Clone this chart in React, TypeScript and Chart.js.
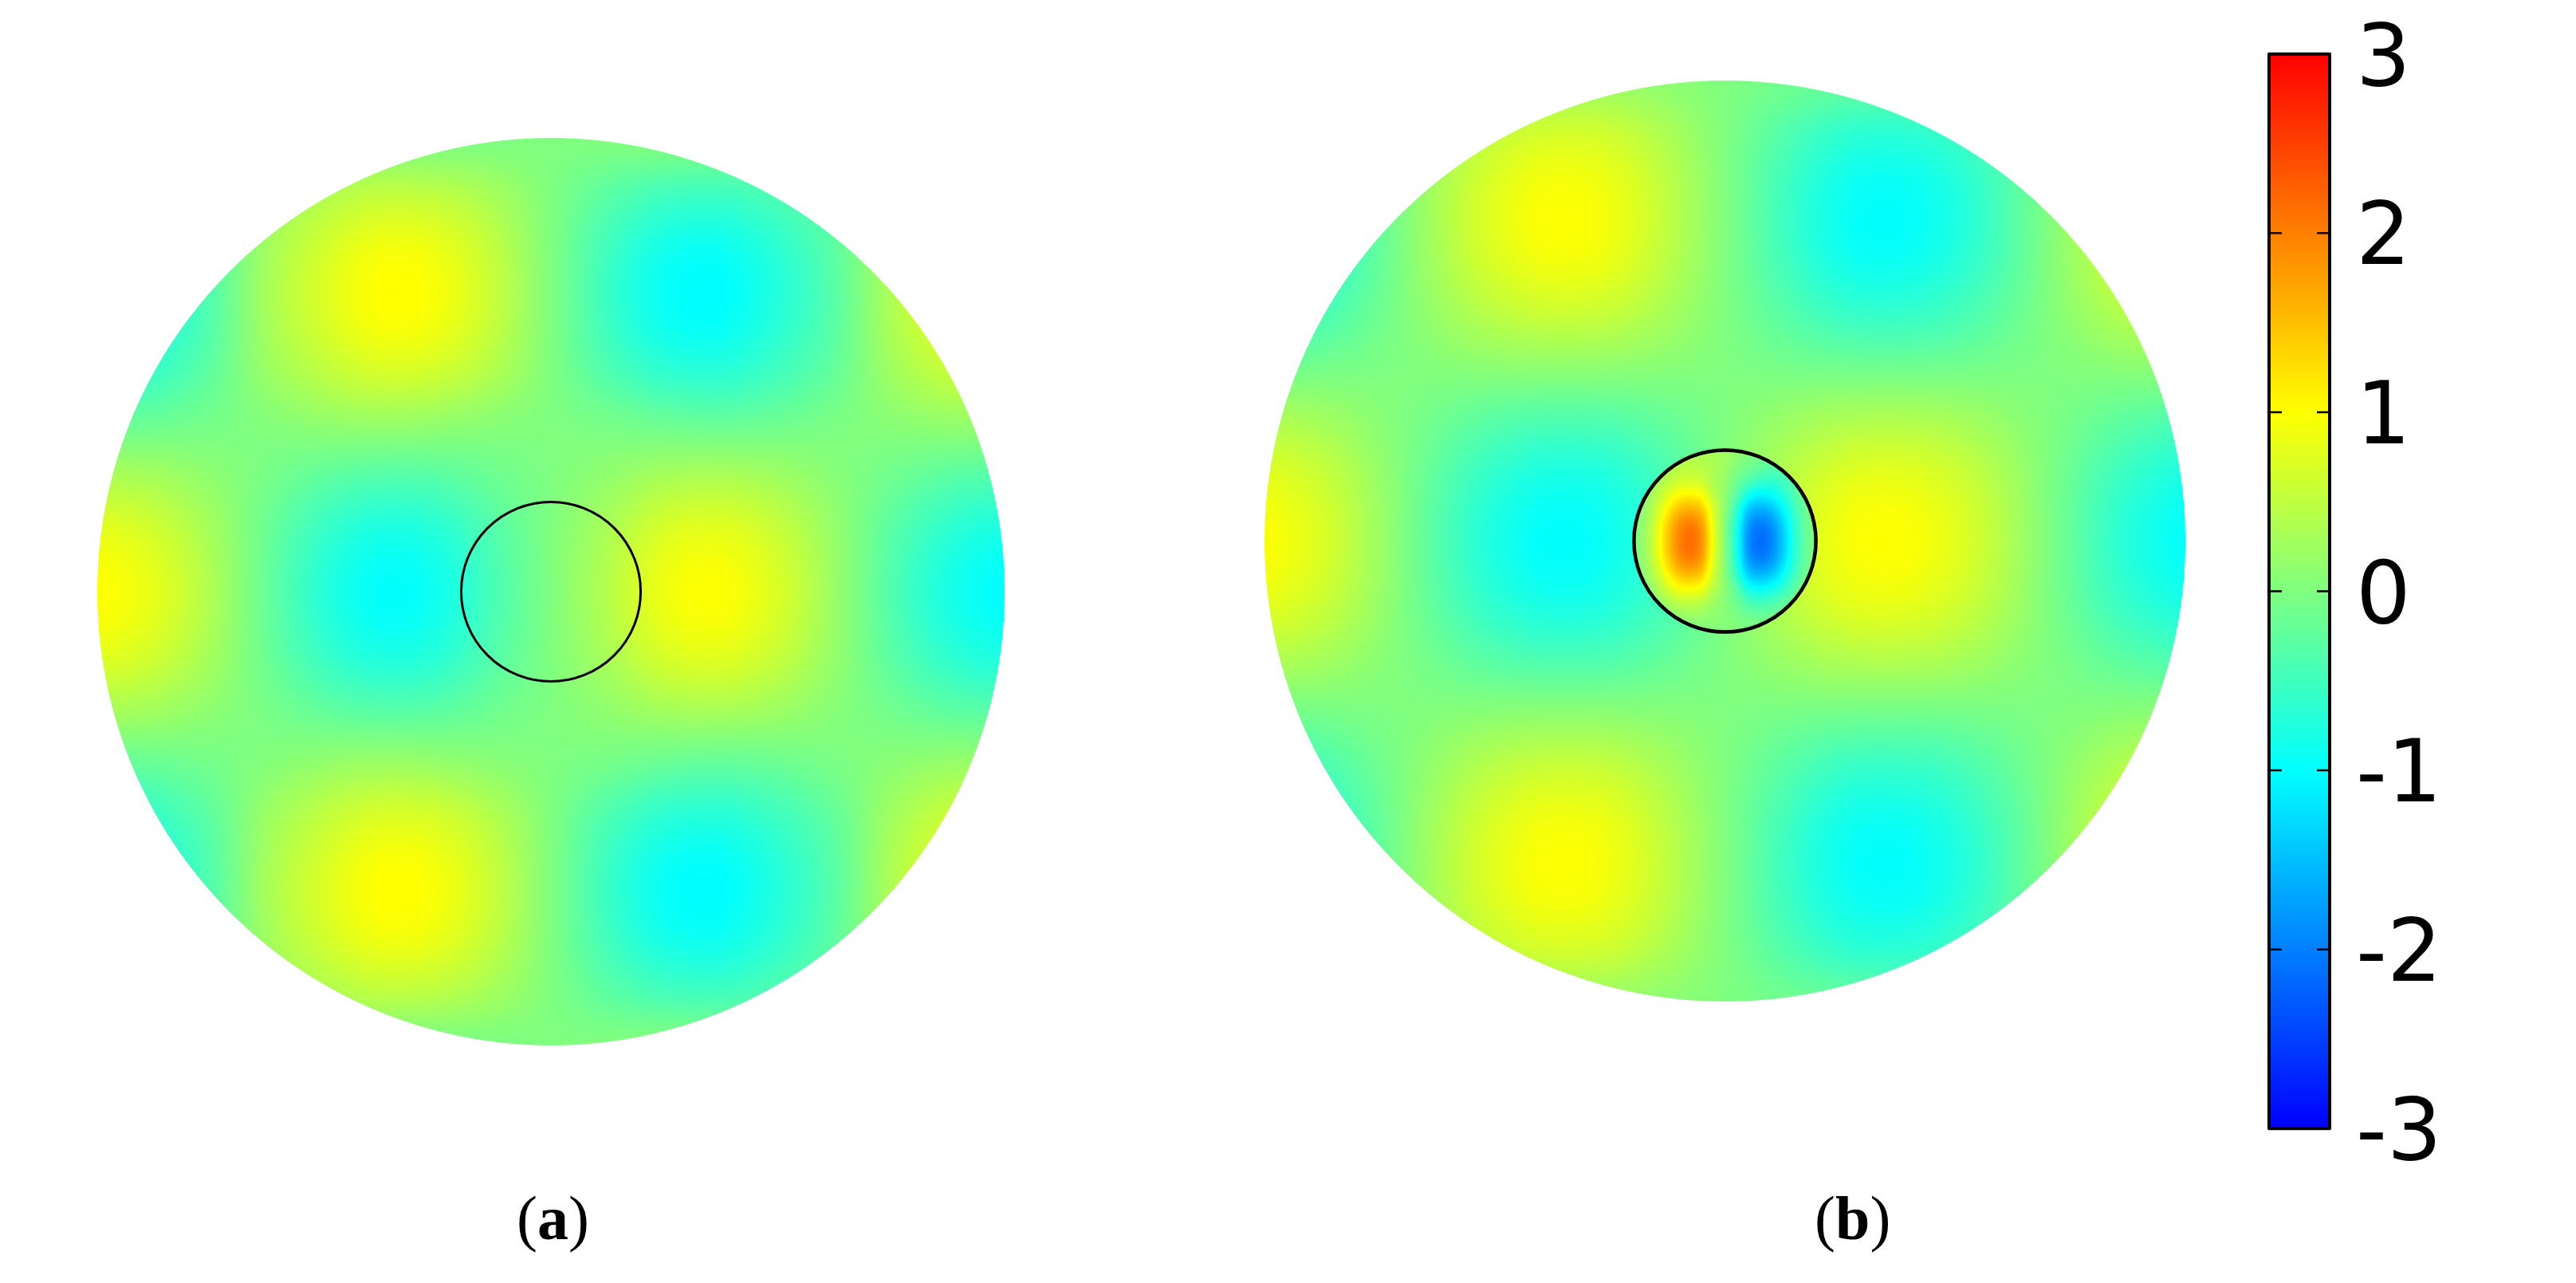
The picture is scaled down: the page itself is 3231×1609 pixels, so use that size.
import React, { useEffect, useRef } from "react";
import { Chart, registerables } from "chart.js";

Chart.register(...registerables);

const gridAxis = [-1, -0.875, -0.75, -0.625, -0.5, -0.375, -0.25, -0.125, 0, 0.125, 0.25, 0.375, 0.5, 0.625, 0.75, 0.875, 1];

// Panel (a): field read on a regular grid, top row first
const fieldA = [
  [0.05, 0.04, 0.02, -0.01, -0.04, -0.05, -0.04, -0.02, 0, 0.02, 0.04, 0.05, 0.04, 0.01, -0.02, -0.04, -0.05],
  [-0.52, -0.42, -0.19, 0.16, 0.37, 0.52, 0.48, 0.29, 0, -0.29, -0.48, -0.52, -0.37, -0.16, 0.19, 0.42, 0.52],
  [-0.91, -0.73, -0.33, 0.27, 0.66, 0.91, 0.85, 0.5, 0, -0.5, -0.85, -0.91, -0.66, -0.27, 0.33, 0.73, 0.91],
  [-0.99, -0.79, -0.35, 0.3, 0.71, 0.99, 0.92, 0.54, 0, -0.54, -0.92, -0.99, -0.71, -0.3, 0.35, 0.79, 0.99],
  [-0.72, -0.58, -0.26, 0.22, 0.52, 0.72, 0.67, 0.4, 0, -0.4, -0.67, -0.72, -0.52, -0.22, 0.26, 0.58, 0.72],
  [-0.21, -0.17, -0.08, 0.04, 0.15, 0.21, 0.17, 0.08, 0, -0.08, -0.17, -0.21, -0.15, -0.04, 0.08, 0.17, 0.21],
  [0.37, 0.3, 0.13, -0.07, -0.26, -0.36, -0.32, -0.155, 0, 0.155, 0.32, 0.36, 0.26, 0.07, -0.13, -0.3, -0.37],
  [0.83, 0.66, 0.3, -0.17, -0.58, -0.81, -0.72, -0.35, 0, 0.35, 0.72, 0.81, 0.58, 0.17, -0.3, -0.66, -0.83],
  [1, 0.8, 0.36, -0.2, -0.7, -0.98, -0.87, -0.42, 0, 0.42, 0.87, 0.98, 0.7, 0.2, -0.36, -0.8, -1],
  [0.83, 0.66, 0.3, -0.17, -0.58, -0.81, -0.72, -0.35, 0, 0.35, 0.72, 0.81, 0.58, 0.17, -0.3, -0.66, -0.83],
  [0.37, 0.3, 0.13, -0.07, -0.26, -0.36, -0.32, -0.155, 0, 0.155, 0.32, 0.36, 0.26, 0.07, -0.13, -0.3, -0.37],
  [-0.21, -0.17, -0.08, 0.04, 0.15, 0.21, 0.17, 0.08, 0, -0.08, -0.17, -0.21, -0.15, -0.04, 0.08, 0.17, 0.21],
  [-0.72, -0.58, -0.26, 0.22, 0.52, 0.72, 0.67, 0.4, 0, -0.4, -0.67, -0.72, -0.52, -0.22, 0.26, 0.58, 0.72],
  [-0.99, -0.79, -0.35, 0.3, 0.71, 0.99, 0.92, 0.54, 0, -0.54, -0.92, -0.99, -0.71, -0.3, 0.35, 0.79, 0.99],
  [-0.91, -0.73, -0.33, 0.27, 0.66, 0.91, 0.85, 0.5, 0, -0.5, -0.85, -0.91, -0.66, -0.27, 0.33, 0.73, 0.91],
  [-0.52, -0.42, -0.19, 0.16, 0.37, 0.52, 0.48, 0.29, 0, -0.29, -0.48, -0.52, -0.37, -0.16, 0.19, 0.42, 0.52],
  [0.05, 0.04, 0.02, -0.01, -0.04, -0.05, -0.04, -0.02, 0, 0.02, 0.04, 0.05, 0.04, 0.01, -0.02, -0.04, -0.05],
];

// Panel (b): host field, top row first
const fieldB = [
  [-0.21, -0.16, -0.05, 0.07, 0.17, 0.22, 0.2, 0.11, 0, -0.11, -0.2, -0.22, -0.17, -0.07, 0.05, 0.16, 0.21],
  [-0.69, -0.5, -0.16, 0.23, 0.55, 0.7, 0.64, 0.36, 0, -0.36, -0.64, -0.7, -0.55, -0.23, 0.16, 0.5, 0.69],
  [-0.94, -0.69, -0.21, 0.32, 0.76, 0.96, 0.87, 0.49, 0, -0.49, -0.87, -0.96, -0.76, -0.32, 0.21, 0.69, 0.94],
  [-0.91, -0.67, -0.21, 0.31, 0.73, 0.93, 0.85, 0.47, 0, -0.47, -0.85, -0.93, -0.73, -0.31, 0.21, 0.67, 0.91],
  [-0.6, -0.44, -0.14, 0.2, 0.48, 0.61, 0.56, 0.31, 0, -0.31, -0.56, -0.61, -0.48, -0.2, 0.14, 0.44, 0.6],
  [-0.11, -0.08, -0.02, 0.04, 0.09, 0.11, 0.1, 0.06, 0, -0.06, -0.1, -0.11, -0.09, -0.04, 0.02, 0.08, 0.11],
  [0.42, 0.31, 0.09, -0.14, -0.34, -0.43, -0.39, -0.22, 0, 0.22, 0.39, 0.43, 0.34, 0.14, -0.09, -0.31, -0.42],
  [0.82, 0.6, 0.19, -0.28, -0.66, -0.84, -0.77, -0.43, 0, 0.43, 0.77, 0.84, 0.66, 0.28, -0.19, -0.6, -0.82],
  [0.97, 0.71, 0.22, -0.33, -0.78, -0.99, -0.9, -0.5, 0, 0.5, 0.9, 0.99, 0.78, 0.33, -0.22, -0.71, -0.97],
  [0.82, 0.6, 0.19, -0.28, -0.66, -0.84, -0.77, -0.43, 0, 0.43, 0.77, 0.84, 0.66, 0.28, -0.19, -0.6, -0.82],
  [0.42, 0.31, 0.09, -0.14, -0.34, -0.43, -0.39, -0.22, 0, 0.22, 0.39, 0.43, 0.34, 0.14, -0.09, -0.31, -0.42],
  [-0.11, -0.08, -0.02, 0.04, 0.09, 0.11, 0.1, 0.06, 0, -0.06, -0.1, -0.11, -0.09, -0.04, 0.02, 0.08, 0.11],
  [-0.6, -0.44, -0.14, 0.2, 0.48, 0.61, 0.56, 0.31, 0, -0.31, -0.56, -0.61, -0.48, -0.2, 0.14, 0.44, 0.6],
  [-0.91, -0.67, -0.21, 0.31, 0.73, 0.93, 0.85, 0.47, 0, -0.47, -0.85, -0.93, -0.73, -0.31, 0.21, 0.67, 0.91],
  [-0.94, -0.69, -0.21, 0.32, 0.76, 0.96, 0.87, 0.49, 0, -0.49, -0.87, -0.96, -0.76, -0.32, 0.21, 0.69, 0.94],
  [-0.69, -0.5, -0.16, 0.23, 0.55, 0.7, 0.64, 0.36, 0, -0.36, -0.64, -0.7, -0.55, -0.23, 0.16, 0.5, 0.69],
  [-0.21, -0.16, -0.05, 0.07, 0.17, 0.22, 0.2, 0.11, 0, -0.11, -0.2, -0.22, -0.17, -0.07, 0.05, 0.16, 0.21],
];

// Panel (b): field inside the inclusion, in inclusion-radius units, top row first
const inclusionB = [
  [0, 0.1, 0.2, 0.25, 0.3, 0.3, 0.3, 0.3, 0.25, 0.15, 0.05, 0, -0.1, -0.1, -0.1, -0.05, 0],
  [0, 0.1, 0.2, 0.32, 0.4, 0.41, 0.39, 0.34, 0.25, 0.1, -0.04, -0.11, -0.2, -0.17, -0.14, -0.06, 0],
  [0, 0.08, 0.2, 0.36, 0.49, 0.52, 0.48, 0.35, 0.2, -0.03, -0.18, -0.32, -0.39, -0.31, -0.2, -0.08, 0],
  [0, 0.1, 0.28, 0.5, 0.67, 0.72, 0.64, 0.37, 0.15, -0.15, -0.44, -0.62, -0.67, -0.51, -0.3, -0.1, 0],
  [0, 0.12, 0.38, 0.73, 0.99, 1.08, 0.94, 0.5, 0.1, -0.32, -0.85, -1.05, -0.99, -0.73, -0.36, -0.1, 0],
  [0, 0.15, 0.5, 0.98, 1.37, 1.5, 1.3, 0.65, 0.1, -0.55, -1.28, -1.5, -1.37, -0.98, -0.49, -0.14, 0],
  [0, 0.17, 0.61, 1.22, 1.7, 1.86, 1.61, 0.76, 0.05, -0.72, -1.61, -1.86, -1.7, -1.22, -0.61, -0.17, 0],
  [0, 0.2, 0.7, 1.36, 1.89, 2.08, 1.79, 0.82, 0.02, -0.82, -1.79, -2.08, -1.89, -1.36, -0.68, -0.19, 0],
  [0, 0.2, 0.7, 1.4, 1.95, 2.14, 1.85, 0.85, 0.02, -0.85, -1.85, -2.14, -1.95, -1.4, -0.7, -0.2, 0],
  [0, 0.2, 0.7, 1.36, 1.89, 2.08, 1.79, 0.82, 0.02, -0.82, -1.79, -2.08, -1.89, -1.36, -0.68, -0.19, 0],
  [0, 0.17, 0.61, 1.22, 1.7, 1.86, 1.61, 0.74, 0.03, -0.74, -1.61, -1.86, -1.7, -1.22, -0.61, -0.17, 0],
  [0, 0.12, 0.47, 0.96, 1.37, 1.5, 1.3, 0.62, 0.05, -0.58, -1.3, -1.5, -1.35, -0.95, -0.47, -0.1, 0.02],
  [-0.1, 0, 0.3, 0.69, 0.96, 1.05, 0.91, 0.45, 0.08, -0.35, -0.87, -1.03, -0.94, -0.66, -0.3, 0, 0.1],
  [-0.2, -0.1, 0.13, 0.38, 0.57, 0.62, 0.54, 0.28, 0.05, -0.2, -0.5, -0.6, -0.52, -0.35, -0.12, 0.05, 0.15],
  [-0.25, -0.15, 0, 0.16, 0.27, 0.32, 0.28, 0.15, 0.05, -0.08, -0.24, -0.28, -0.24, -0.13, 0, 0.12, 0.25],
  [-0.25, -0.2, -0.1, 0, 0.08, 0.11, 0.1, 0.08, 0.05, 0, -0.07, -0.08, -0.06, 0, 0.08, 0.18, 0.3],
  [-0.25, -0.2, -0.15, -0.1, -0.03, 0, 0, 0.02, 0.03, 0.03, 0.05, 0.05, 0.1, 0.15, 0.2, 0.25, 0.3],
];

const inclusionRadiusA = 0.2005;
const inclusionRadiusB = 0.2015;

const colorbarTicks = [-3, -2, -1, 0, 1, 2, 3];
const colormapValues = [-3, -1, 1, 3];
const colormapColors = [
  [0, 0, 255],
  [0, 255, 255],
  [255, 255, 0],
  [255, 0, 0],
];

function colormap(v: number): [number, number, number] {
  const t = Math.max(0, Math.min(2.9999, (v + 3) / 2));
  const i = Math.floor(t);
  const f = t - i;
  const a = colormapColors[i];
  const b = colormapColors[i + 1];
  return [a[0] + (b[0] - a[0]) * f, a[1] + (b[1] - a[1]) * f, a[2] + (b[2] - a[2]) * f];
}

function cr(p0: number, p1: number, p2: number, p3: number, t: number) {
  return 0.5 * (2 * p1 + (p2 - p0) * t + (2 * p0 - 5 * p1 + 4 * p2 - p3) * t * t + (3 * p1 - p0 - 3 * p2 + p3) * t * t * t);
}

function sampleGrid(grid: number[][], x: number, y: number) {
  const n = gridAxis.length;
  const step = gridAxis[1] - gridAxis[0];
  const fx = Math.max(0, Math.min(n - 1.0001, (x - gridAxis[0]) / step));
  const fy = Math.max(0, Math.min(n - 1.0001, (1 - y) / step));
  const ix = Math.floor(fx);
  const iy = Math.floor(fy);
  const tx = fx - ix;
  const ty = fy - iy;
  const col = [0, 0, 0, 0];
  for (let k = 0; k < 4; k++) {
    const row = grid[Math.max(0, Math.min(n - 1, iy + k - 1))];
    col[k] = cr(row[Math.max(0, ix - 1)], row[ix], row[ix + 1], row[Math.min(n - 1, ix + 2)], tx);
  }
  return cr(col[0], col[1], col[2], col[3], ty);
}

const fieldPlugin = {
  id: "fieldPlugin",
  beforeDatasetsDraw(chart: any, _args: any, opts: any) {
    if (!opts.grid) return;
    const { x: sx, y: sy } = chart.scales;
    const { ctx } = chart;
    const x0 = sx.getPixelForValue(0);
    const y0 = sy.getPixelForValue(0);
    const R = sx.getPixelForValue(1) - x0;
    const left = Math.floor(x0 - R - 2);
    const top = Math.floor(y0 - R - 2);
    const size = Math.ceil(2 * R + 4);
    const off = document.createElement("canvas");
    off.width = size;
    off.height = size;
    const octx = off.getContext("2d")!;
    const img = octx.createImageData(size, size);
    const d = img.data;
    const rho = opts.inclusionRadius;
    for (let j = 0; j < size; j++) {
      const py = top + j + 0.5;
      const y = sy.getValueForPixel(py);
      for (let i = 0; i < size; i++) {
        const px = left + i + 0.5;
        const dist = Math.hypot(px - x0, py - y0);
        const alpha = Math.max(0, Math.min(1, R - dist + 0.5));
        if (alpha <= 0) continue;
        const x = sx.getValueForPixel(px);
        const r = Math.hypot(x, y);
        const v = opts.inner && r < rho ? sampleGrid(opts.inner, x / rho, y / rho) : sampleGrid(opts.grid, x, y);
        const c = colormap(v);
        const k = (j * size + i) * 4;
        d[k] = c[0];
        d[k + 1] = c[1];
        d[k + 2] = c[2];
        d[k + 3] = alpha * 255;
      }
    }
    octx.putImageData(img, 0, 0);
    ctx.drawImage(off, left, top);
  },
};

const colorbarFramePlugin = {
  id: "colorbarFrame",
  afterDatasetsDraw(chart: any) {
    const { ctx, chartArea: a, scales } = chart;
    ctx.save();
    ctx.strokeStyle = "#000";
    ctx.lineWidth = 2.5;
    ctx.beginPath();
    for (const t of scales.y.ticks) {
      const py = scales.y.getPixelForValue(t.value);
      ctx.moveTo(a.left, py);
      ctx.lineTo(a.left + 16, py);
      ctx.moveTo(a.right - 16, py);
      ctx.lineTo(a.right, py);
    }
    ctx.stroke();
    ctx.lineWidth = 4;
    ctx.lineJoin = "round";
    ctx.strokeRect(a.left, a.top, a.right - a.left, a.bottom - a.top);
    ctx.restore();
  },
};

function Panel({ grid, inner, rho, left, top, size, ringWidth }: any) {
  const ref = useRef<HTMLCanvasElement>(null);
  useEffect(() => {
    const chart = new Chart(ref.current!, {
      type: "scatter",
      data: {
        datasets: [
          {
            data: [{ x: 0, y: 0 }],
            pointBackgroundColor: "rgba(0,0,0,0)",
            pointBorderColor: "#000",
            pointBorderWidth: ringWidth,
            pointRadius: (c: any) => {
              const s = c.chart.scales.x;
              return s.getPixelForValue(rho) - s.getPixelForValue(0) - ringWidth / 2;
            },
            clip: false,
          } as any,
        ],
      },
      options: {
        animation: false,
        responsive: false,
        devicePixelRatio: 1,
        layout: { padding: 4 },
        events: [],
        plugins: {
          legend: { display: false },
          tooltip: { enabled: false },
          fieldPlugin: { grid, inner, inclusionRadius: rho },
        } as any,
        scales: {
          x: { type: "linear", min: -1, max: 1, display: false },
          y: { type: "linear", min: -1, max: 1, display: false },
        },
      },
      plugins: [fieldPlugin],
    });
    return () => chart.destroy();
  }, []);
  return <canvas ref={ref} width={size} height={size} style={{ position: "absolute", left, top, width: size, height: size }} />;
}

function Colorbar() {
  const ref = useRef<HTMLCanvasElement>(null);
  useEffect(() => {
    const chart = new Chart(ref.current!, {
      type: "bar",
      data: {
        labels: [""],
        datasets: [
          {
            data: [[colorbarTicks[0], colorbarTicks[colorbarTicks.length - 1]]],
            barPercentage: 1,
            categoryPercentage: 1,
            backgroundColor: (c: any) => {
              const { ctx, scales, chartArea } = c.chart;
              if (!chartArea) return "#000";
              const y = scales.y;
              const lo = y.getPixelForValue(colormapValues[0]);
              const hi = y.getPixelForValue(colormapValues[colormapValues.length - 1]);
              const g = ctx.createLinearGradient(0, lo, 0, hi);
              colormapValues.forEach((v, i) => {
                const col = colormapColors[i];
                g.addColorStop((v - colormapValues[0]) / (colormapValues[colormapValues.length - 1] - colormapValues[0]), `rgb(${col[0]},${col[1]},${col[2]})`);
              });
              return g;
            },
          } as any,
        ],
      },
      options: {
        animation: false,
        responsive: false,
        devicePixelRatio: 1,
        events: [],
        layout: { padding: { left: 16, top: 67.7, right: 0, bottom: 193.7 } },
        plugins: { legend: { display: false }, tooltip: { enabled: false } },
        scales: {
          x: { display: false },
          y: {
            position: "right",
            min: -3,
            max: 3,
            afterFit: (s: any) => {
              s.width = 309;
              s.paddingTop = 0;
              s.paddingBottom = 0;
            },
            afterBuildTicks: (s: any) => {
              s.ticks = colorbarTicks.map((value) => ({ value }));
            },
            border: { display: false },
            grid: { display: false, drawTicks: false },
            ticks: {
              color: "#000",
              padding: 33,
              labelOffset: 11,
              autoSkip: false,
              font: { family: "'DejaVu Sans'", size: 108 },
              callback: (v: any) => String(v),
            },
          },
        } as any,
      },
      plugins: [colorbarFramePlugin],
    });
    return () => chart.destroy();
  }, []);
  return <canvas ref={ref} width={401} height={1609} style={{ position: "absolute", left: 2830, top: 0, width: 401, height: 1609 }} />;
}

function Caption({ letter, left }: { letter: string; left: number }) {
  return (
    <div style={{ position: "absolute", left, top: 1489, font: "78px/78px 'Liberation Serif'", color: "#000", whiteSpace: "nowrap" }}>
      (<b>{letter}</b>)
    </div>
  );
}

export default function App() {
  return (
    <div style={{ position: "absolute", left: 0, top: 0, width: 3231, height: 1609, overflow: "hidden", background: "#fff" }}>
      <Panel grid={fieldA} rho={inclusionRadiusA} left={118} top={169} size={1146} ringWidth={3} />
      <Panel grid={fieldB} inner={inclusionB} rho={inclusionRadiusB} left={1582} top={97} size={1163} ringWidth={4.5} />
      <Colorbar />
      <Caption letter="a" left={648} />
      <Caption letter="b" left={2276} />
    </div>
  );
}
